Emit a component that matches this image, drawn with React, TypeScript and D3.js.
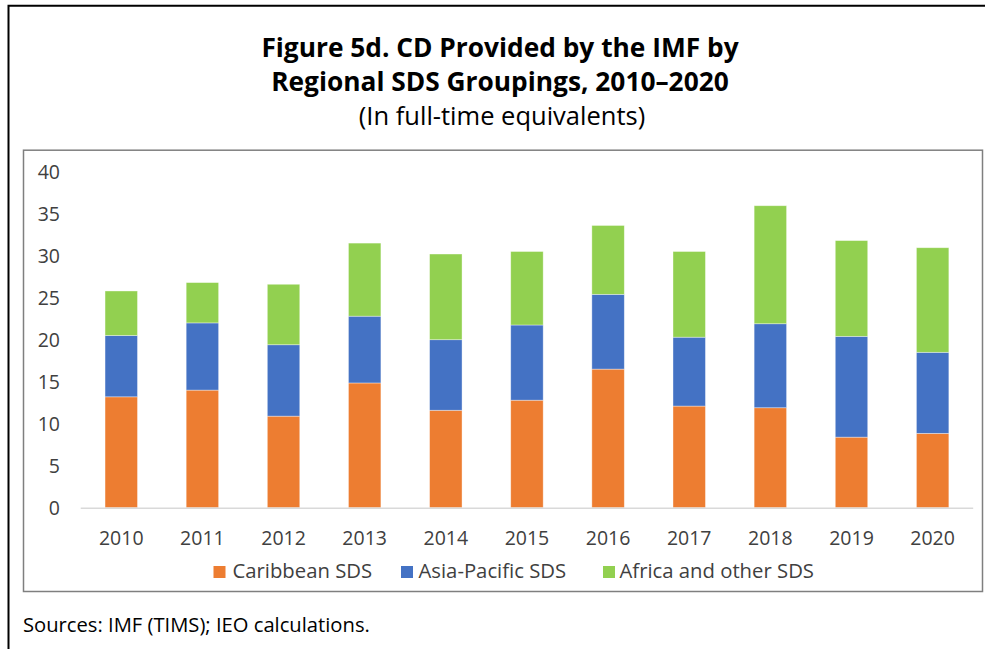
import React from "react";
import * as d3 from "d3";

const years = ["2010","2011","2012","2013","2014","2015","2016","2017","2018","2019","2020"];
const caribbean = [13.2, 14.0, 10.9, 14.85, 11.6, 12.8, 16.5, 12.1, 11.9, 8.4, 8.85];
const asiaPacific = [7.3, 8.0, 8.5, 7.95, 8.4, 8.95, 8.9, 8.2, 10.0, 12.0, 9.65];
const africaOther = [5.3, 4.8, 7.2, 8.7, 10.2, 8.75, 8.2, 10.2, 14.05, 11.4, 12.45];
const seriesNames = ["Caribbean SDS", "Asia-Pacific SDS", "Africa and other SDS"];
const seriesColors = ["#ED7D31", "#4472C4", "#92D050"];
const yTicks = [0, 5, 10, 15, 20, 25, 30, 35, 40];

const W = 985, H = 649;
const FONT = "'Open Sans', 'Noto Sans', sans-serif";

export default function App() {
  const rows = years.map((y, i) => ({ year: y, c: caribbean[i], a: asiaPacific[i], f: africaOther[i] }));
  const stack = d3.stack<any>().keys(["c", "a", "f"])(rows);
  const x = d3.scaleBand().domain(years).range([80.7, 973.2]).paddingInner(0.6).paddingOuter(0.3);
  const y = d3.scaleLinear().domain([0, 40]).range([507.7, 171.7]);
  const legendSquareX = [213.5, 401, 603];
  const legendTextX = [232.5, 418.5, 619.5];
  return (
    <svg width={W} height={H} style={{ position: "absolute", left: 0, top: 0, background: "#fff" }} fontFamily={FONT}>
      <rect x={0} y={0} width={W} height={H} fill="#fff" />
      {/* outer frame */}
      <path d={`M8.5,${H} L8.5,5.7 L${W},5.7`} fill="none" stroke="#000" strokeWidth={2} />
      <text x={500} y={56.5} textAnchor="middle" fontSize={26.3} fontWeight="bold" fill="#000">Figure 5d. CD Provided by the IMF by</text>
      <text x={500} y={90.5} textAnchor="middle" fontSize={26.3} fontWeight="bold" fill="#000">Regional SDS Groupings, 2010–2020</text>
      <text x={502} y={125} textAnchor="middle" fontSize={25.5} fill="#000">(In full-time equivalents)</text>
      {/* inner chart box */}
      <rect x={23.5} y={150.2} width={959} height={441.3} fill="#fff" stroke="#7f7f7f" strokeWidth={1.5} />
      {/* y ticks */}
      {yTicks.map(t => (
        <text key={t} x={60} y={y(t)} dy="0.35em" textAnchor="end" fontSize={19.5} fill="#404040">{t}</text>
      ))}
      {/* bars */}
      {stack.map((s, si) => (
        <g key={si}>
          {s.map((d, i) => (
            <rect key={i} x={x(years[i])} y={y(d[1])} width={x.bandwidth()} height={y(d[0]) - y(d[1])}
              fill={seriesColors[si]} stroke="#fff" strokeOpacity={0.5} strokeWidth={0.75} />
          ))}
        </g>
      ))}
      {/* baseline */}
      <line x1={80.7} x2={973.2} y1={y(0) + 0.6} y2={y(0) + 0.6} stroke="#d9d9d9" strokeWidth={1.5} />
      {years.map(yr => (
        <text key={yr} x={(x(yr) as number) + x.bandwidth() / 2} y={545} textAnchor="middle" fontSize={19.5} fill="#404040">{yr}</text>
      ))}
      {/* legend */}
      {seriesNames.map((n, i) => (
        <g key={n}>
          <rect x={legendSquareX[i]} y={566} width={12} height={12} fill={seriesColors[i]} />
          <text x={legendTextX[i]} y={578} fontSize={20.3} fill="#404040">{n}</text>
        </g>
      ))}
      <text x={23} y={631.5} fontSize={20.2} fill="#000">Sources: IMF (TIMS); IEO calculations.</text>
    </svg>
  );
}
